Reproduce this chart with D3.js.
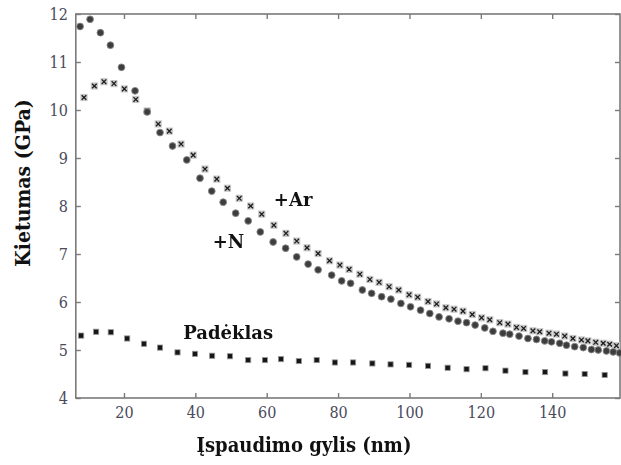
<!DOCTYPE html>
<html>
<head>
<meta charset="utf-8">
<script src="https://cdn.jsdelivr.net/npm/d3@7"></script>
<style>
  html, body { margin: 0; padding: 0; background: #fff; }
  svg { display: block; }
</style>
</head>
<body>
<svg id="chart" width="621" height="465"></svg>
<script>
// Indentation hardness vs. indentation depth

// +N film (circles)
const depthN = [7.7, 10.5, 13.4, 16.2, 19.3, 23.1, 26.5, 30.1, 33.6, 37.6, 41.3, 44.6, 47.8, 51.3, 54.8, 58.2,
  61.8, 65.3, 68.4, 71.6, 74.4, 78.2, 81.0, 83.5, 86.8, 89.4, 92.2, 94.8, 97.6, 100.3, 103.1, 105.7, 108.3,
  111.1, 113.6, 116.0, 118.4, 121.1, 123.4, 126.2, 128.1, 130.7, 133.2, 135.6, 137.9, 139.8, 142.1, 144.0,
  146.3, 148.7, 151.0, 152.9, 155.2, 157.1, 158.9];
const hardN = [11.74, 11.89, 11.61, 11.35, 10.89, 10.40, 9.96, 9.53, 9.25, 8.96, 8.58, 8.31, 8.08, 7.85, 7.69, 7.46,
  7.25, 7.12, 6.94, 6.79, 6.67, 6.56, 6.44, 6.39, 6.25, 6.18, 6.11, 6.06, 5.97, 5.90, 5.83, 5.76, 5.69,
  5.65, 5.60, 5.57, 5.52, 5.46, 5.39, 5.35, 5.33, 5.29, 5.24, 5.22, 5.19, 5.17, 5.14, 5.10,
  5.07, 5.05, 5.01, 5.00, 4.98, 4.96, 4.94];

// +Ar film (crosses)
const depthAr = [8.8, 11.7, 14.4, 17.2, 20.1, 23.3, 26.5, 29.6, 32.7, 36.0, 39.4, 42.7, 46.0, 49.0, 52.3, 55.5,
  58.6, 62.0, 65.4, 68.4, 71.3, 74.4, 77.6, 80.5, 83.1, 86.1, 88.9, 91.5, 94.3, 97.0, 99.9, 102.3, 105.2,
  107.6, 110.2, 112.5, 115.0, 117.6, 120.2, 122.5, 125.3, 127.6, 130.0, 132.0, 134.6, 136.5, 139.1, 141.2,
  143.5, 145.8, 148.2, 150.0, 152.2, 154.3, 156.1, 158.0];
const hardAr = [10.26, 10.50, 10.59, 10.55, 10.44, 10.22, 9.98, 9.71, 9.56, 9.29, 9.06, 8.77, 8.56, 8.37, 8.16, 8.00,
  7.83, 7.60, 7.43, 7.27, 7.13, 7.01, 6.86, 6.77, 6.68, 6.58, 6.47, 6.41, 6.32, 6.25, 6.15, 6.10, 6.01,
  5.96, 5.88, 5.85, 5.81, 5.74, 5.67, 5.63, 5.57, 5.54, 5.47, 5.45, 5.40, 5.38, 5.35, 5.33,
  5.29, 5.24, 5.21, 5.19, 5.16, 5.14, 5.12, 5.09];

// Substrate (squares)
const depthSub = [8.0, 12.2, 16.3, 20.9, 25.6, 30.1, 35.0, 39.9, 44.7, 49.7, 54.8, 59.5, 64.0, 69.0, 74.0,
  79.1, 84.2, 89.6, 94.7, 99.9, 105.2, 110.7, 116.0, 121.3, 126.9, 132.5, 138.0, 143.7, 149.1, 154.7];
const hardSub = [5.30, 5.38, 5.37, 5.24, 5.13, 5.05, 4.95, 4.92, 4.88, 4.87, 4.79, 4.79, 4.81, 4.77, 4.79,
  4.74, 4.74, 4.72, 4.70, 4.69, 4.67, 4.63, 4.60, 4.62, 4.57, 4.54, 4.54, 4.51, 4.50, 4.48];

const xTicks = [20, 40, 60, 80, 100, 120, 140];
const yTicks = [4, 5, 6, 7, 8, 9, 10, 11, 12];
const xDomain = [6.5, 159];
const yDomain = [4, 12];

const xTitle = "Įspaudimo gylis (nm)";
const yTitle = "Kietumas (GPa)";
const labelAr = "+Ar";
const labelN = "+N";
const labelSub = "Padėklas";

const svg = d3.select("#chart");
const W = 621, H = 465;
const m = { left: 75.8, right: 1, top: 14, bottom: 67 };
const x = d3.scaleLinear().domain(xDomain).range([m.left, W - m.right]);
const y = d3.scaleLinear().domain(yDomain).range([H - m.bottom, m.top]);

svg.append("rect").attr("width", W).attr("height", H).attr("fill", "#fff");

const serif = "DejaVu Serif";
const tickColor = "#4a4a5c";
const frameColor = "#7a7a7a";

function styleAxis(g, showLabels) {
  g.select(".domain").remove();
  g.selectAll(".tick line").attr("stroke", frameColor).attr("stroke-width", 1.4);
  g.attr("font-family", serif).attr("font-stretch", "condensed").attr("font-size", 16);
  g.selectAll(".tick text").attr("fill", tickColor);
  if (!showLabels) g.selectAll(".tick text").remove();
}

// Bottom and left axes with inward ticks
svg.append("g")
  .attr("transform", `translate(0,${y(yDomain[0])})`)
  .call(d3.axisBottom(x).tickValues(xTicks).tickSizeInner(-5).tickSizeOuter(0).tickPadding(9))
  .call(g => styleAxis(g, true));

svg.append("g")
  .attr("transform", `translate(${x(xDomain[0])},0)`)
  .call(d3.axisLeft(y).tickValues(yTicks).tickSizeInner(-5).tickSizeOuter(0).tickPadding(8))
  .call(g => styleAxis(g, true));

// Top and right axes: ticks only
svg.append("g")
  .attr("transform", `translate(0,${y(yDomain[1])})`)
  .call(d3.axisTop(x).tickValues(xTicks).tickSizeInner(-5).tickSizeOuter(0))
  .call(g => styleAxis(g, false));

svg.append("g")
  .attr("transform", `translate(${x(xDomain[1])},0)`)
  .call(d3.axisRight(y).tickValues(yTicks).tickSizeInner(-5).tickSizeOuter(0))
  .call(g => styleAxis(g, false));

// Frame
svg.append("rect")
  .attr("x", x(xDomain[0])).attr("y", y(yDomain[1]))
  .attr("width", x(xDomain[1]) - x(xDomain[0]))
  .attr("height", y(yDomain[0]) - y(yDomain[1]))
  .attr("fill", "none").attr("stroke", frameColor).attr("stroke-width", 1.6);

// Soft edge on the markers
const defs = svg.append("defs");
defs.append("filter").attr("id", "soft")
  .append("feGaussianBlur").attr("stdDeviation", 0.45);

const marks = svg.append("g").attr("filter", "url(#soft)");

// Substrate: small squares
marks.append("g").selectAll("rect")
  .data(d3.zip(depthSub, hardSub))
  .join("rect")
  .attr("x", d => x(d[0]) - 2.6).attr("y", d => y(d[1]) - 2.6)
  .attr("width", 5.2).attr("height", 5.2)
  .attr("fill", "#151515")
  .attr("stroke", "#999").attr("stroke-width", 0.8);

// +Ar: crosses
const ar = marks.append("g").selectAll("g")
  .data(d3.zip(depthAr, hardAr))
  .join("g")
  .attr("transform", d => `translate(${x(d[0])},${y(d[1])})`);
ar.append("rect").attr("x", -3.6).attr("y", -3.6).attr("width", 7.2).attr("height", 7.2)
  .attr("fill", "#c8c8c8");
ar.append("path").attr("d", "M-2.3,-2.3L2.3,2.3M-2.3,2.3L2.3,-2.3")
  .attr("stroke", "#1e1e1e").attr("stroke-width", 1.3);

// +N: filled circles
marks.append("g").selectAll("circle")
  .data(d3.zip(depthN, hardN))
  .join("circle")
  .attr("cx", d => x(d[0])).attr("cy", d => y(d[1]))
  .attr("r", 3.4)
  .attr("fill", "#3c3c3c")
  .attr("stroke", "#8a8a8a").attr("stroke-width", 0.9);

// Series annotations
const ann = svg.append("g")
  .attr("font-family", serif).attr("font-weight", "bold")
  .attr("font-size", 18).attr("fill", "#111");
ann.append("text").attr("x", x(62)).attr("y", y(8.12) + 6).text(labelAr);
ann.append("text").attr("x", x(49.3)).attr("y", y(7.25) + 6).attr("text-anchor", "middle").text(labelN);
ann.append("text").attr("x", x(36.6)).attr("y", y(5.35) + 6).text(labelSub);

// Axis titles
svg.append("text")
  .attr("x", 304)
  .attr("y", 452)
  .attr("text-anchor", "middle")
  .attr("font-family", serif).attr("font-stretch", "condensed")
  .attr("font-weight", "bold").attr("font-size", 20)
  .attr("fill", "#111")
  .text(xTitle);

svg.append("text")
  .attr("transform", `translate(30,183) rotate(-90)`)
  .attr("text-anchor", "middle")
  .attr("font-family", serif).attr("font-stretch", "condensed")
  .attr("font-weight", "bold").attr("font-size", 21)
  .attr("fill", "#111")
  .text(yTitle);
</script>
</body>
</html>
